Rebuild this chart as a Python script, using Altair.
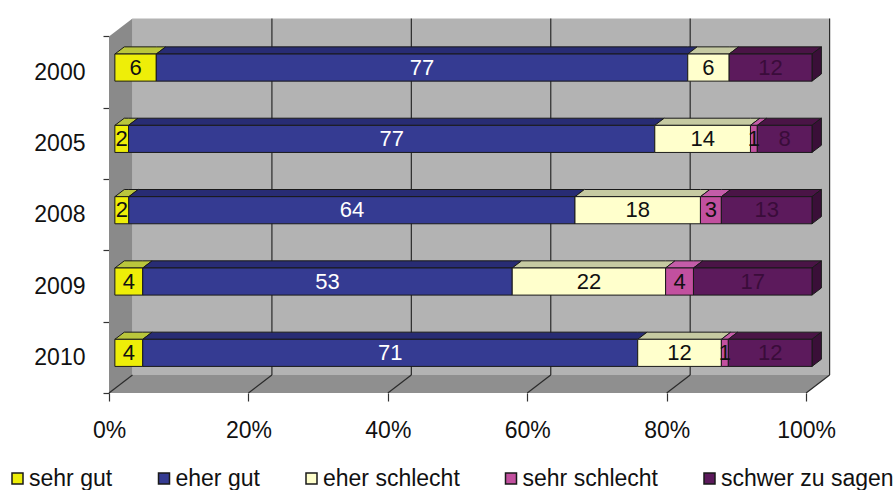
import altair as alt
import pandas as pd

# ---- data -------------------------------------------------------------
years = ["2000", "2005", "2008", "2009", "2010"]
categories = ["sehr gut", "eher gut", "eher schlecht", "sehr schlecht", "schwer zu sagen"]
sehr_gut = [6, 2, 2, 4, 4]
eher_gut = [77, 77, 64, 53, 71]
eher_schlecht = [6, 14, 18, 22, 12]
sehr_schlecht = [0, 1, 3, 4, 1]
schwer_zu_sagen = [12, 8, 13, 17, 12]
tick_values = [0, 20, 40, 60, 80, 100]

series = [sehr_gut, eher_gut, eher_schlecht, sehr_schlecht, schwer_zu_sagen]

# ---- styling ----------------------------------------------------------
front_colors = ["#EEEE08", "#353B92", "#FFFFCC", "#C2509F", "#5C1A5C"]
top_colors = ["#BAC63C", "#282C74", "#C6CAA2", "#C45CA8", "#4A1446"]
side_color = "#3A0F38"
text_colors = ["#111111", "#FFFFFF", "#111111", "#111111", "#3A0C3A"]
FONT = "Liberation Sans"

# 3D box geometry (x in percent, y in row units)
DX, DY = 3.37, 0.251          # full depth of the box
BAR_D0, BAR_D1 = 0.25, 0.65   # bar depth range as fraction of the box depth
BAR_HALF = 0.19               # half bar thickness
N = len(years)


def parallelogram(face, a, b, yf, dx, dy, fill, rows):
    """Horizontal parallelogram: front edge a..b at yf, pushed back by (dx, dy)."""
    xs = sorted(set([a, b, a + dx, b + dx]))
    for k, x in enumerate(xs):
        lo = yf + dy * min(max((x - b) / dx, 0), 1)
        hi = yf + dy * min(max((x - a) / dx, 0), 1)
        rows.append(dict(face=face, x=x, lo=lo, hi=hi, fill=fill, ord=k))


def side(face, x0, y0, y1, dx, dy, fill, rows):
    rows.append(dict(face=face, x=x0, lo=y0, hi=y1, fill=fill, ord=0))
    rows.append(dict(face=face, x=x0 + dx, lo=y0 + dy, hi=y1 + dy, fill=fill, ord=1))


# walls
wall_rows = []
side("left", 0, 0, N, DX, DY, "#8A8A8A", wall_rows)
parallelogram("floor", 0, 100, 0, DX, DY, "#8F8F8F", wall_rows)
walls = pd.DataFrame(wall_rows)
back = pd.DataFrame([dict(x=DX, x2=100 + DX, y=DY, y2=N + DY)])

grid_rows = []
for t in tick_values[1:-1]:
    grid_rows.append(dict(x=t + DX, x2=t + DX, y=DY, y2=N + DY))
grid_rows.append(dict(x=100 + DX, x2=100 + DX, y=DY, y2=N + DY))
for t in tick_values:
    grid_rows.append(dict(x=t, x2=t + DX, y=0, y2=DY))
grid = pd.DataFrame(grid_rows)

# bars
face_rows, front_rows, label_rows = [], [], []
bdx = (BAR_D1 - BAR_D0) * DX
bdy = (BAR_D1 - BAR_D0) * DY
for i, year in enumerate(years):
    vals = [s[i] for s in series]
    total = sum(vals)
    yc = N - 0.5 - i
    y0 = yc - BAR_HALF + BAR_D0 * DY
    y1 = yc + BAR_HALF + BAR_D0 * DY
    cum = 0
    last = max(j for j, v in enumerate(vals) if v > 0)
    for j, v in enumerate(vals):
        if v == 0:
            continue
        p0 = cum / total * 100
        p1 = (cum + v) / total * 100
        cum += v
        x0 = p0 + BAR_D0 * DX
        x1 = p1 + BAR_D0 * DX
        front_rows.append(dict(category=categories[j], x=x0, x2=x1, y=y0, y2=y1))
        parallelogram(f"top-{year}-{j}", x0, x1, y1, bdx, bdy, top_colors[j], face_rows)
        if j == last:
            side(f"side-{year}", x1, y0, y1, bdx, bdy, side_color, face_rows)
        label_rows.append(dict(x=(x0 + x1) / 2, y=(y0 + y1) / 2, text=str(v), tcolor=text_colors[j]))

faces = pd.DataFrame(face_rows)
fronts = pd.DataFrame(front_rows)
labels = pd.DataFrame(label_rows)

# ---- scales & axes ----------------------------------------------------
xs = alt.Scale(domain=[0, 104], nice=False, zero=False)
ys = alt.Scale(domain=[0, 5.3], nice=False, zero=False)

x_axis = alt.Axis(
    values=tick_values, labelExpr="datum.value + '%'", title=None, grid=False,
    domain=False, tickSize=8, tickColor="#333333", tickWidth=1.2,
    labelFontSize=23, labelFont=FONT, labelColor="#111111", labelPadding=18,
    labelFlush=False, labelOverlap=False,
)
year_expr = " : ".join(f"datum.value === {N - 0.5 - i} ? '{y}'" for i, y in enumerate(years)) + " : ''"
y_axis = alt.Axis(
    values=[k / 2 for k in range(2 * N + 1)], labelExpr=year_expr, title=None,
    grid=False, domain=False, tickSize=6, tickColor="#333333", tickWidth=1.2,
    tickOpacity={"condition": {"test": "datum.value % 1 === 0", "value": 1}, "value": 0},
    labelFontSize=23, labelFont=FONT, labelColor="#111111", labelPadding=18,
)


def X(field):
    return alt.X(field, scale=xs, axis=x_axis)


def Y(field):
    return alt.Y(field, scale=ys, axis=y_axis, stack=None)


back_layer = alt.Chart(back).mark_rect(color="#B3B3B3").encode(
    x=X("x:Q"), x2="x2:Q", y=Y("y:Q"), y2="y2:Q",
)

wall_layer = alt.Chart(walls).mark_area(orient="vertical", opacity=1).encode(
    x=X("x:Q"), y=Y("lo:Q"), y2="hi:Q",
    detail="face:N", fill=alt.Fill("fill:N", scale=None),
)

grid_layer = alt.Chart(grid).mark_rule(color="#2A2A2A", strokeWidth=1.2).encode(
    x=X("x:Q"), x2="x2:Q", y=Y("y:Q"), y2="y2:Q",
)

face_layer = alt.Chart(faces).mark_area(
    orient="vertical", opacity=1, stroke="#1A1A1A", strokeWidth=1
).encode(
    x=X("x:Q"), y=Y("lo:Q"), y2="hi:Q",
    detail="face:N", fill=alt.Fill("fill:N", scale=None),
)

front_layer = alt.Chart(fronts).mark_rect(stroke="#1A1A1A", strokeWidth=1, opacity=1).encode(
    x=X("x:Q"), x2="x2:Q", y=Y("y:Q"), y2="y2:Q",
    color=alt.Color(
        "category:N",
        scale=alt.Scale(domain=categories, range=front_colors),
        legend=alt.Legend(
            title=None, orient="none", direction="horizontal", columns=5,
            legendX=-103, legendY=452, symbolType="square", symbolSize=121,
            symbolStrokeColor="#1A1A1A", symbolStrokeWidth=1.5, symbolOpacity=1,
            labelFontSize=23, labelFont=FONT, labelColor="#111111", labelLimit=300,
            labelOffset=0, columnPadding=39.5, gridAlign="none",
        ),
    ),
)

label_layer = alt.Chart(labels).mark_text(fontSize=22, font=FONT, baseline="middle").encode(
    x=X("x:Q"), y=Y("y:Q"),
    text="text:N", fill=alt.Fill("tcolor:N", scale=None),
)

chart = alt.layer(
    back_layer, wall_layer, grid_layer, face_layer, front_layer, label_layer
).properties(
    width=725, height=378,
    autosize=alt.AutoSizeParams(type="none"),
    padding={"left": 109, "top": 15, "right": 60, "bottom": 97},
).configure_view(stroke=None)

chart.save("out.html", embed_options={"renderer": "svg", "actions": False})
